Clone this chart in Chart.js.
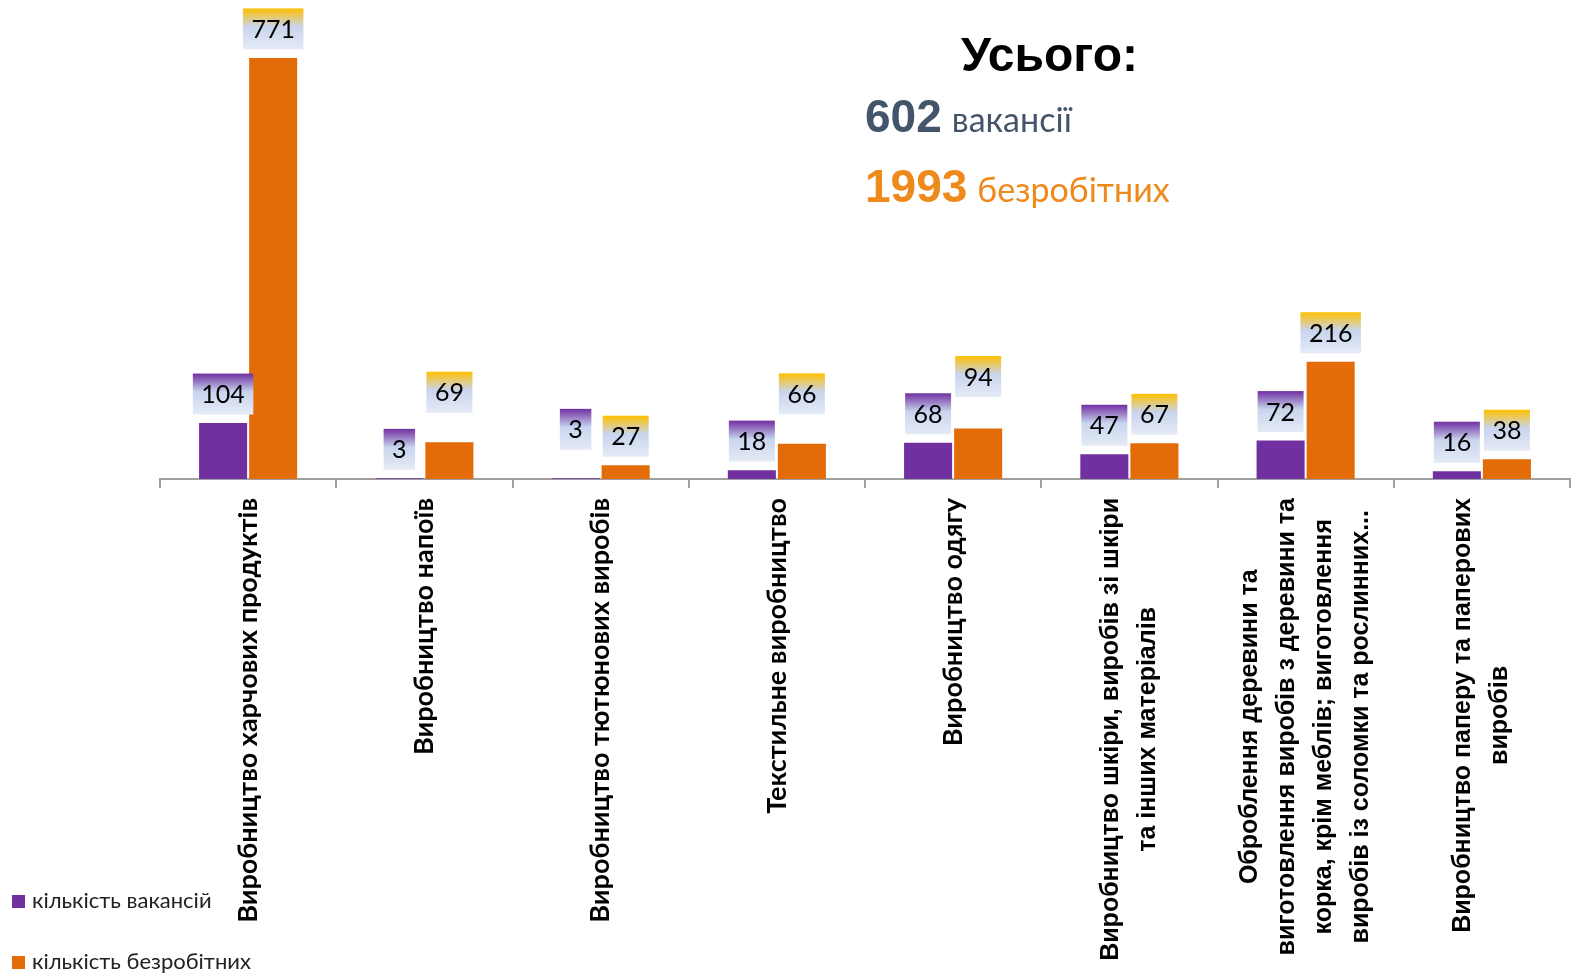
<!DOCTYPE html>
<html lang="uk">
<head>
<meta charset="utf-8">
<title>Вакансії та безробітні за видами промисловості</title>
<script src="https://cdn.jsdelivr.net/npm/chart.js@4.4.1/dist/chart.umd.min.js"></script>
<style>
  body { margin: 0; background: #fff; }
  #wrap { position: relative; width: 1571px; height: 977px; overflow: hidden; }
  #chart { position: absolute; left: 0; top: 0; }
  .totals { position: absolute; left: 865px; top: 0; white-space: nowrap; }
  .totals .title { position: absolute; left: 96px; top: 27px; font: bold 48px "Liberation Sans", Arial, sans-serif; color: #000; }
  .totals .row { position: absolute; left: 0; white-space: nowrap; }
  .totals .num { font: bold 46px "Liberation Sans", Arial, sans-serif; }
  .totals .word { font: 34px Lato, "Noto Sans", sans-serif; margin-left: 10px; }
  .legend { position: absolute; left: 12px; font: 22px Lato, "Noto Sans", sans-serif; color: #222; white-space: nowrap; }
  .legend i { display: inline-block; width: 13px; height: 13px; margin-right: 7px; }
</style>
</head>
<body>
<div id="wrap">
  <canvas id="chart" width="1571" height="977"></canvas>

  <div class="totals">
    <div class="title">Усього:</div>
    <div class="row" style="top: 89px; color: #44546A;"><span class="num">602</span><span class="word">вакансії</span></div>
    <div class="row" style="top: 159px; color: #EE8A1C;"><span class="num">1993</span><span class="word">безробітних</span></div>
  </div>

  <div class="legend" style="top: 886px;"><i style="background:#7030A0"></i>кількість вакансій</div>
  <div class="legend" style="top: 947px;"><i style="background:#E36C09"></i>кількість безробітних</div>
</div>

<script>
// Categories (each entry is a list of label lines)
const categories = [
  ['Виробництво харчових продуктів'],
  ['Виробництво напоїв'],
  ['Виробництво тютюнових виробів'],
  ['Текстильне виробництво'],
  ['Виробництво одягу'],
  ['Виробництво шкіри, виробів зі шкіри', 'та інших матеріалів'],
  ['Оброблення деревини та', 'виготовлення виробів з деревини та', 'корка, крім меблів; виготовлення', 'виробів із соломки та рослинних...'],
  ['Виробництво паперу та паперових', 'виробів']
];

// Series values
const vacancies = [104, 3, 3, 18, 68, 47, 72, 16];
const unemployed = [771, 69, 27, 66, 94, 67, 216, 38];

// Manual lift of some value boxes (px), as placed in the original
const vacancyLabelLift = [0, 0, 20, 0, 0, 0, 0, 0];
const unemployedLabelLift = [0, 21, 0, 21, 23, 0, 0, 0];

// Fonts for category labels (first five look like Calibri, the rest Arial)
const calibriLike = 'bold 27px Lato, "Noto Sans", sans-serif';
const arialLike = 'bold 25px "Liberation Sans", Arial, sans-serif';
const labelFonts = [calibriLike, calibriLike, calibriLike, calibriLike, calibriLike, arialLike, arialLike, arialLike];

// Draw value boxes with a gradient top, like the Excel data labels
const valueBoxes = {
  id: 'valueBoxes',
  afterDatasetsDraw(chart) {
    const ctx = chart.ctx;
    ctx.save();
    ctx.font = '25px Lato, "Noto Sans", sans-serif';
    ctx.textAlign = 'center';
    ctx.textBaseline = 'middle';
    chart.data.datasets.forEach((ds, di) => {
      const meta = chart.getDatasetMeta(di);
      const lifts = di === 0 ? vacancyLabelLift : unemployedLabelLift;
      const topColor = di === 0 ? '#7030A0' : '#FFC000';
      meta.data.forEach((bar, i) => {
        const text = String(ds.data[i]);
        const w = ctx.measureText(text).width + 17;
        const h = 41;
        const bottom = bar.y - 7.5 - lifts[i];
        const top = bottom - h;
        const left = bar.x - w / 2;
        const g = ctx.createLinearGradient(0, top, 0, bottom);
        g.addColorStop(0, topColor);
        g.addColorStop(0.45, '#C8D5EE');
        g.addColorStop(1, '#E5EBF6');
        ctx.fillStyle = g;
        ctx.fillRect(left, top, w, h);
        ctx.fillStyle = '#000';
        ctx.fillText(text, bar.x, top + h / 2 + 1);
      });
    });
    ctx.restore();
  }
};

// Rotated, centred multi-line category labels under the axis
const categoryLabels = {
  id: 'categoryLabels',
  afterDraw(chart) {
    const ctx = chart.ctx;
    const xs = chart.scales.x;
    const startY = chart.chartArea.bottom + 19;
    const lineH = 36.7;
    ctx.save();
    ctx.fillStyle = '#000';
    ctx.textAlign = 'center';
    ctx.textBaseline = 'middle';
    categories.forEach((lines, i) => {
      ctx.font = labelFonts[i];
      const maxW = Math.max(...lines.map(l => ctx.measureText(l).width));
      const cx = xs.getPixelForValue(i);
      const cy = startY + maxW / 2;
      lines.forEach((line, li) => {
        const off = (li - (lines.length - 1) / 2) * lineH;
        ctx.save();
        ctx.translate(cx + off, cy);
        ctx.rotate(-Math.PI / 2);
        ctx.fillText(line, 0, 0);
        ctx.restore();
      });
    });
    ctx.restore();
  }
};

const ctx = document.getElementById('chart').getContext('2d');
new Chart(ctx, {
  type: 'bar',
  data: {
    labels: categories,
    datasets: [
      {
        label: 'кількість вакансій',
        data: vacancies,
        backgroundColor: '#7030A0',
        borderColor: 'rgba(255,255,255,0.35)',
        borderWidth: 1,
        categoryPercentage: 0.568,
        barPercentage: 1.0
      },
      {
        label: 'кількість безробітних',
        data: unemployed,
        backgroundColor: '#E36C09',
        borderColor: 'rgba(255,255,255,0.35)',
        borderWidth: 1,
        categoryPercentage: 0.568,
        barPercentage: 1.0
      }
    ]
  },
  options: {
    responsive: false,
    animation: false,
    events: [],
    layout: {
      padding: { left: 160, right: 1, top: 0, bottom: 8 }
    },
    plugins: {
      legend: { display: false },
      tooltip: { enabled: false }
    },
    scales: {
      x: {
        grid: {
          display: true,
          offset: true,
          drawOnChartArea: false,
          drawTicks: true,
          tickLength: 9,
          color: '#A0A0A0',
          lineWidth: 2
        },
        border: { display: true, color: '#A0A0A0', width: 2 },
        ticks: { display: false },
        afterFit(scale) { scale.height = 490; }
      },
      y: {
        display: false,
        min: 0,
        max: 875
      }
    }
  },
  plugins: [valueBoxes, categoryLabels]
});
</script>
</body>
</html>
